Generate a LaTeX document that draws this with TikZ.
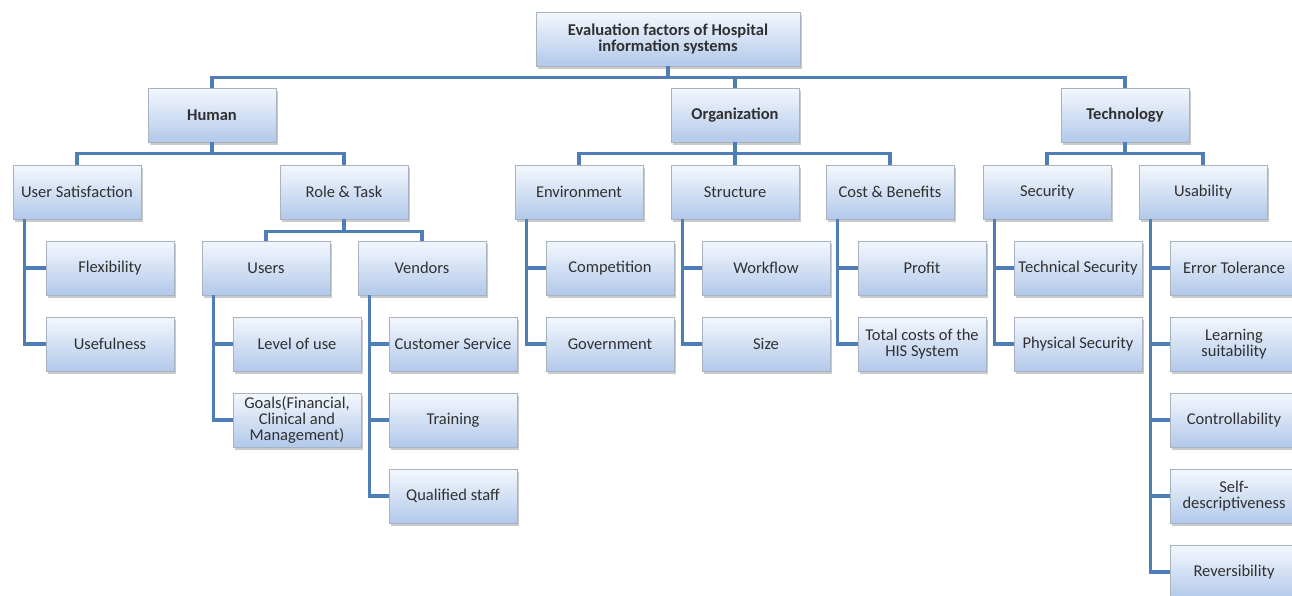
\documentclass[tikz,border=0pt]{standalone}
\usepackage{fontspec}
\setmainfont{Carlito}
\usetikzlibrary{shadows}

\definecolor{linkblue}{HTML}{4F7DB8}
\definecolor{boxtop}{HTML}{F4F8FD}
\definecolor{boxbot}{HTML}{B2C9EB}
\definecolor{boxline}{HTML}{A9B3BF}
\definecolor{boxtext}{HTML}{303030}

\tikzset{
  box/.style={rectangle, draw=boxline, line width=0.8pt,
    top color=boxtop, bottom color=boxbot, text=boxtext,
    minimum width=128pt, minimum height=54pt, inner sep=1pt,
    align=center, font=\fontsize{16.5}{16}\selectfont,
    drop shadow={shadow xshift=2pt, shadow yshift=-2.5pt, opacity=0.35, fill=black!60}},
  hbox/.style={box, font=\fontsize{16.5}{16}\selectfont\bfseries},
  link/.style={draw=linkblue, line width=3.5pt}
}

\begin{document}
\begin{tikzpicture}[x=1pt,y=-1pt]
\useasboundingbox (0,0) rectangle (1292,595);
\clip (0,0) rectangle (1292,595);
% top
\node [hbox, minimum width=264pt] (root) at (668,39) {Evaluation factors of Hospital\\information systems};
\node [hbox] (human) at (212,115) {Human};
\node [hbox] (org) at (735,115) {Organization};
\node [hbox] (tech) at (1125,115) {Technology};
% second row
\node [box] (usat) at (77,192) {User Satisfaction};
\node [box] (role) at (344,192) {Role \& Task};
\node [box] (env) at (579,192) {Environment};
\node [box] (struc) at (735,192) {Structure};
\node [box] (cost) at (890,192) {Cost \& Benefits};
\node [box] (secu) at (1047,192) {Security};
\node [box] (usab) at (1203,192) {Usability};
% role & task
\node [box] (users) at (266,268) {Users};
\node [box] (vend) at (422,268) {Vendors};
% leaves
\node [box] (flex) at (110,268) {Flexibility};
\node [box] (usef) at (110,344) {Usefulness};
\node [box] (lvl) at (297,344) {Level of use};
\node [box] (goals) at (297,420) {Goals(Financial,\\Clinical and\\Management)};
\node [box] (cust) at (453,344) {Customer Service};
\node [box] (train) at (453,420) {Training};
\node [box] (qual) at (453,496) {Qualified staff};
\node [box] (comp) at (610,268) {Competition};
\node [box] (gov) at (610,344) {Government};
\node [box] (work) at (766,268) {Workflow};
\node [box] (size) at (766,344) {Size};
\node [box] (profit) at (922,268) {Profit};
\node [box] (total) at (922,344) {Total costs of the\\HIS System};
\node [box] (techsec) at (1078,268) {Technical Security};
\node [box] (physec) at (1078,344) {Physical Security};
\node [box] (err) at (1234,268) {Error Tolerance};
\node [box] (learn) at (1234,344) {Learning\\suitability};
\node [box] (ctrl) at (1234,420) {Controllability};
\node [box] (selfd) at (1234,496) {Self-\\descriptiveness};
\node [box] (rev) at (1234,572) {Reversibility};
% connectors
\draw [link] (root.south) -- ++(0,11) -| (human.north);
\draw [link] (root.south) -- ++(0,11) -| (org.north);
\draw [link] (root.south) -- ++(0,11) -| (tech.north);
\draw [link] (human.south) -- ++(0,11) -| (usat.north);
\draw [link] (human.south) -- ++(0,11) -| (role.north);
\draw [link] (org.south) -- ++(0,11) -| (env.north);
\draw [link] (org.south) -- ++(0,11) -| (struc.north);
\draw [link] (org.south) -- ++(0,11) -| (cost.north);
\draw [link] (tech.south) -- ++(0,11) -| (secu.north);
\draw [link] (tech.south) -- ++(0,11) -| (usab.north);
\draw [link] (role.south) -- ++(0,12) -| (users.north);
\draw [link] (role.south) -- ++(0,12) -| (vend.north);
\draw [link] ([xshift=12pt]usat.south west) |- (flex.west);
\draw [link] ([xshift=12pt]usat.south west) |- (usef.west);
\draw [link] ([xshift=12pt]users.south west) |- (lvl.west);
\draw [link] ([xshift=12pt]users.south west) |- (goals.west);
\draw [link] ([xshift=12pt]vend.south west) |- (cust.west);
\draw [link] ([xshift=12pt]vend.south west) |- (train.west);
\draw [link] ([xshift=12pt]vend.south west) |- (qual.west);
\draw [link] ([xshift=12pt]env.south west) |- (comp.west);
\draw [link] ([xshift=12pt]env.south west) |- (gov.west);
\draw [link] ([xshift=12pt]struc.south west) |- (work.west);
\draw [link] ([xshift=12pt]struc.south west) |- (size.west);
\draw [link] ([xshift=12pt]cost.south west) |- (profit.west);
\draw [link] ([xshift=12pt]cost.south west) |- (total.west);
\draw [link] ([xshift=12pt]secu.south west) |- (techsec.west);
\draw [link] ([xshift=12pt]secu.south west) |- (physec.west);
\draw [link] ([xshift=12pt]usab.south west) |- (err.west);
\draw [link] ([xshift=12pt]usab.south west) |- (learn.west);
\draw [link] ([xshift=12pt]usab.south west) |- (ctrl.west);
\draw [link] ([xshift=12pt]usab.south west) |- (selfd.west);
\draw [link] ([xshift=12pt]usab.south west) |- (rev.west);
\end{tikzpicture}
\end{document}
